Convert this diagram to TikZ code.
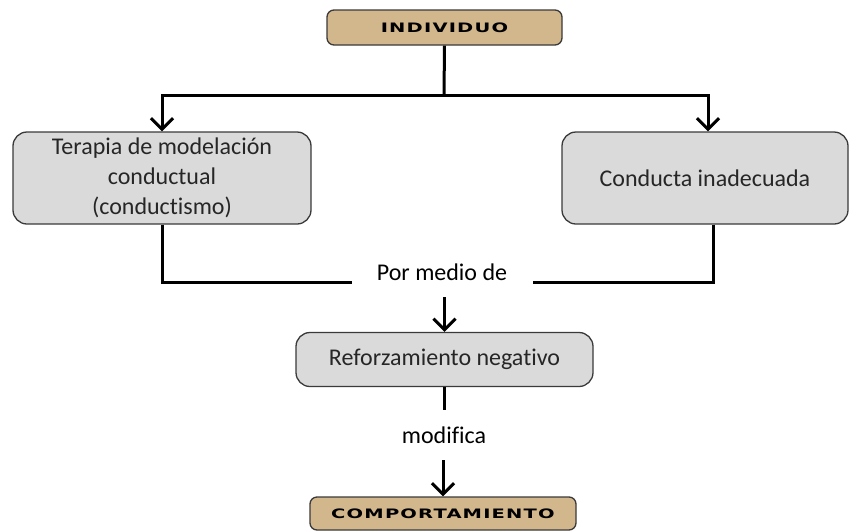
\documentclass[tikz,border=0pt]{standalone}
\usepackage{fontspec}
\setmainfont{Carlito}[Ligatures=CommonOff]
\newfontfamily\hdrfont{DejaVu Sans}[LetterSpace=6]
\newcommand{\hdrtext}[1]{\scalebox{1.5}[1]{\hdrfont\bfseries #1}}
\usetikzlibrary{arrows.meta}
\definecolor{tan}{HTML}{D3B78C}
\definecolor{boxgray}{HTML}{DADADA}
\definecolor{edge}{HTML}{3A3A3A}
\definecolor{boxtext}{HTML}{262626}
\tikzset{
  hdrbox/.style={draw=edge,line width=1.3pt,fill=tan,rounded corners=7pt,inner sep=0pt,
    font=\fontsize{13}{15}\selectfont},
  graybox/.style={draw=edge,line width=1.3pt,fill=boxgray,rounded corners=14pt,inner sep=0pt,
    align=center,text=boxtext,font=\fontsize{24}{30}\selectfont},
  lbl/.style={inner sep=0pt,font=\fontsize{24}{28}\selectfont},
  conn/.style={line width=3pt,black},
  arr/.style={conn,-{Straight Barb[length=11pt,width=22pt,line width=3pt]}}
}
\begin{document}
\begin{tikzpicture}[x=1pt,y=1pt]
\useasboundingbox (0,0) rectangle (849,-531);
% nodes
\node[hdrbox,minimum width=235pt,minimum height=35pt] (ind) at (444.5,-27.5) {\hdrtext{INDIVIDUO}};
\node[graybox,minimum width=298pt,minimum height=92pt] (ter) at (162,-178) {Terapia de modelación\\conductual\\(conductismo)};
\node[graybox,minimum width=286pt,minimum height=92pt] (con) at (705,-178) {Conducta inadecuada};
\node[lbl,minimum width=181pt,minimum height=50pt] (por) at (442,-272) {Por medio de};
\node[graybox,minimum width=297pt,minimum height=54pt] (ref) at (444.5,-359.5) {Reforzamiento negativo};
\node[lbl,minimum height=50pt] (mod) at (444,-435) {modifica};
\node[hdrbox,minimum width=266pt,minimum height=33pt] (comp) at (443,-513.5) {\hdrtext{COMPORTAMIENTO}};
% junction coordinates
\coordinate (top) at (444,-95);
\coordinate (pl) at (352,-282);
\coordinate (pr) at (533,-282);
% connectors
\draw[conn] (ind.south) -- (top);
\draw[arr] (top) -| (ter.north);
\draw[arr] (top) -| ([xshift=3pt]con.north);
\draw[conn] (ter.south) |- (pl);
\draw[conn] ([xshift=8pt]con.south) |- (pr);
\draw[arr] (ref.north |- por.south) -- (ref.north);
\draw[conn] (ref.south) -- (ref.south |- mod.north);
\draw[arr] (comp.north |- mod.south) -- (comp.north);
\end{tikzpicture}
\end{document}
